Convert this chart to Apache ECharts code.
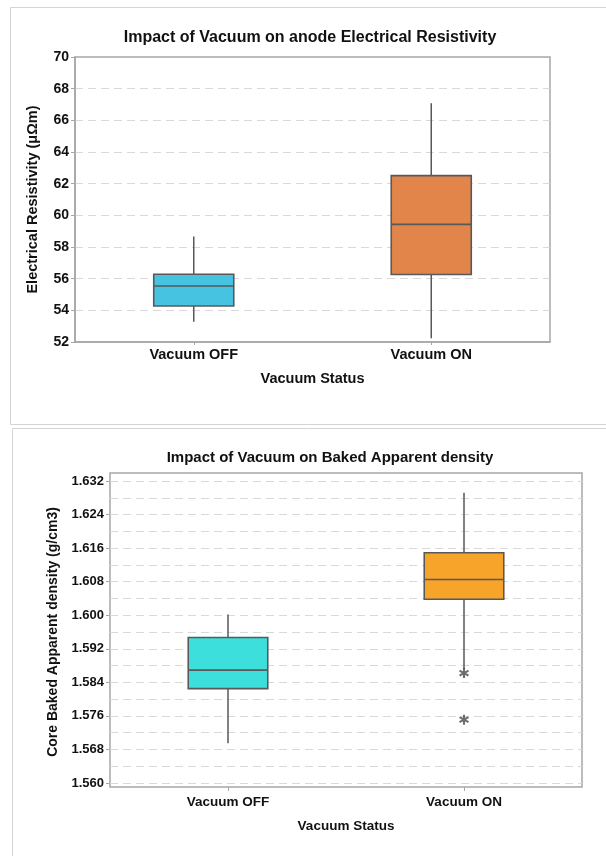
<!DOCTYPE html>
<html>
<head>
<meta charset="utf-8">
<script src="https://cdn.jsdelivr.net/npm/echarts@6/dist/echarts.min.js"></script>
<style>
html,body{margin:0;padding:0;background:#fff;}
#chart{width:606px;height:856px;}
</style>
</head>
<body>
<div id="chart"></div>
<script>
// ---------- data ----------
const categories = ['Vacuum OFF', 'Vacuum ON'];

// Chart 1: Electrical resistivity (µΩm)
const resistivityMin    = [53.28, 52.23];
const resistivityQ1     = [54.27, 56.26];
const resistivityMedian = [55.54, 59.43];
const resistivityQ3     = [56.28, 62.51];
const resistivityMax    = [58.67, 67.08];
const resistivityTicks  = [52, 54, 56, 58, 60, 62, 64, 66, 68, 70];

// Chart 2: Core baked apparent density (g/cm3)
const densityMin    = [1.5695, 1.5872];
const densityQ1     = [1.5825, 1.6038];
const densityMedian = [1.5869, 1.6085];
const densityQ3     = [1.5947, 1.6149];
const densityMax    = [1.6002, 1.6292];
const densityOutlierCat = [1, 1];
const densityOutlierVal = [1.5862, 1.5751];
const densityTicks = ['1.560','1.568','1.576','1.584','1.592','1.600','1.608','1.616','1.624','1.632'];

// ---------- styles ----------
const colorsTop = ['#45C3E1', '#E1854A'];
const colorsBottom = ['#3DDFDD', '#F7A52A'];
const FONT = 'Liberation Sans';
const TXT = '#111';
const EDGE = '#595959';
const AXISC = '#a6a6a6';
const GRIDC = '#d9d9d9';

function boxData(mn, q1, md, q3, mx) {
  return categories.map((c, i) => [i, mn[i], q1[i], md[i], q3[i], mx[i]]);
}

function makeRender(colors) {
  return function (params, api) {
    const i = api.value(0);
    const pMin = api.coord([i, api.value(1)]);
    const pQ1 = api.coord([i, api.value(2)]);
    const pMed = api.coord([i, api.value(3)]);
    const pQ3 = api.coord([i, api.value(4)]);
    const pMax = api.coord([i, api.value(5)]);
    const half = api.size([1, 0])[0] * 0.337 / 2;
    const x = pMed[0];
    const ls = { stroke: EDGE, lineWidth: 1.5 };
    return {
      type: 'group',
      children: [
        { type: 'line', shape: { x1: x, y1: pMax[1], x2: x, y2: pQ3[1] }, style: ls },
        { type: 'line', shape: { x1: x, y1: pQ1[1], x2: x, y2: pMin[1] }, style: ls },
        { type: 'rect', shape: { x: x - half, y: pQ3[1], width: half * 2, height: pQ1[1] - pQ3[1] },
          style: { fill: colors[params.dataIndex], stroke: EDGE, lineWidth: 1.6 } },
        { type: 'line', shape: { x1: x - half, y1: pMed[1], x2: x + half, y2: pMed[1] }, style: { stroke: EDGE, lineWidth: 1.6 } }
      ]
    };
  };
}

const asterisk = 'path://M4,0 L6,0 L6,10 L4,10 Z M0.17,3.37 L1.17,1.63 L9.83,6.63 L8.83,8.37 Z M9.83,3.37 L1.17,8.37 L0.17,6.63 L8.83,1.63 Z';

const labelStyle = { fontFamily: FONT, fontWeight: 'bold', color: TXT };

const chart = echarts.init(document.getElementById('chart'), null, { renderer: 'canvas' });

const dTickNums = densityTicks.map(Number);

chart.setOption({
  animation: false,
  backgroundColor: '#fff',
  graphic: [
    { type: 'rect', shape: { x: 10.5, y: 7.5, width: 620, height: 417 }, style: { fill: 'none', stroke: '#d4d4d4', lineWidth: 1 }, silent: true },
    { type: 'rect', shape: { x: 12.5, y: 428.5, width: 620, height: 440 }, style: { fill: 'none', stroke: '#d4d4d4', lineWidth: 1 }, silent: true }
  ],
  title: [
    { text: 'Impact of Vacuum on anode Electrical Resistivity', left: 305, top: 25, textAlign: 'center',
      textStyle: { fontFamily: FONT, fontWeight: 'bold', fontSize: 16, color: TXT } },
    { text: 'Impact of Vacuum on Baked Apparent density', left: 325, top: 445, textAlign: 'center',
      textStyle: { fontFamily: FONT, fontWeight: 'bold', fontSize: 15, color: TXT } }
  ],
  grid: [
    { left: 75, top: 57, width: 475, height: 285, show: true, borderColor: AXISC, borderWidth: 1.5, backgroundColor: 'transparent' },
    { left: 110, top: 481, width: 472, height: 302 },
    { left: 110, top: 473, width: 472, height: 314, show: true, borderColor: AXISC, borderWidth: 1.5, backgroundColor: 'transparent' }
  ],
  xAxis: [
    { gridIndex: 0, type: 'category', data: categories,
      name: 'Vacuum Status', nameLocation: 'middle', nameGap: 29,
      nameTextStyle: { fontFamily: FONT, fontWeight: 'bold', fontSize: 14.5, color: TXT },
      axisLine: { show: true, lineStyle: { color: AXISC, width: 1.5 } },
      axisTick: { show: true, alignWithLabel: true, length: 3, lineStyle: { color: AXISC } },
      axisLabel: Object.assign({ fontSize: 14.5, margin: 5 }, labelStyle),
      splitLine: { show: false } },
    { gridIndex: 1, type: 'category', data: categories, show: false },
    { gridIndex: 2, type: 'category', data: categories,
      name: 'Vacuum Status', nameLocation: 'middle', nameGap: 32,
      nameTextStyle: { fontFamily: FONT, fontWeight: 'bold', fontSize: 13.5, color: TXT },
      axisLine: { show: false },
      axisTick: { show: true, alignWithLabel: true, length: 4, lineStyle: { color: AXISC } },
      axisLabel: Object.assign({ fontSize: 13.5, margin: 8 }, labelStyle),
      splitLine: { show: false } }
  ],
  yAxis: [
    { gridIndex: 0, type: 'value',
      min: resistivityTicks[0], max: resistivityTicks[resistivityTicks.length - 1],
      interval: resistivityTicks[1] - resistivityTicks[0],
      name: 'Electrical Resistivity (\u03bc\u03a9m)', nameLocation: 'middle', nameGap: 35,
      nameTextStyle: { fontFamily: FONT, fontWeight: 'bold', fontSize: 14.5, color: TXT },
      axisLine: { show: true, lineStyle: { color: AXISC, width: 1.5 } },
      axisTick: { show: true, length: 4, lineStyle: { color: AXISC } },
      axisLabel: Object.assign({ fontSize: 14, margin: 6 }, labelStyle),
      splitLine: { show: true, showMinLine: false, showMaxLine: false, lineStyle: { color: GRIDC, type: [8, 5], width: 1.2 } } },
    { gridIndex: 1, type: 'value',
      min: dTickNums[0], max: dTickNums[dTickNums.length - 1],
      interval: +(dTickNums[1] - dTickNums[0]).toFixed(3),
      name: 'Core Baked Apparent density (g/cm3)', nameLocation: 'middle', nameGap: 49,
      nameTextStyle: { fontFamily: FONT, fontWeight: 'bold', fontSize: 14, color: TXT },
      axisLine: { show: false },
      axisTick: { show: true, length: 4, lineStyle: { color: AXISC } },
      axisLabel: Object.assign({ fontSize: 13, margin: 6, formatter: v => v.toFixed(3) }, labelStyle),
      minorTick: { show: false, splitNumber: 2 },
      splitLine: { show: true, lineStyle: { color: GRIDC, type: [8, 5], width: 1.2 } },
      minorSplitLine: { show: true, lineStyle: { color: GRIDC, type: [8, 5], width: 1.2 } } },
    { gridIndex: 2, type: 'value', show: false, min: 0, max: 1, splitLine: { show: false } }
  ],
  series: [
    { type: 'custom', xAxisIndex: 0, yAxisIndex: 0, renderItem: makeRender(colorsTop),
      encode: { x: 0, y: [1, 2, 3, 4, 5] },
      data: boxData(resistivityMin, resistivityQ1, resistivityMedian, resistivityQ3, resistivityMax), z: 5 },
    { type: 'custom', xAxisIndex: 1, yAxisIndex: 1, renderItem: makeRender(colorsBottom),
      encode: { x: 0, y: [1, 2, 3, 4, 5] },
      data: boxData(densityMin, densityQ1, densityMedian, densityQ3, densityMax), z: 5 },
    { type: 'scatter', xAxisIndex: 1, yAxisIndex: 1, symbol: asterisk, symbolSize: 10,
      itemStyle: { color: '#4a4a4a' }, z: 6,
      data: densityOutlierCat.map((c, i) => [c, densityOutlierVal[i]]) }
  ]
});
</script>
</body>
</html>
